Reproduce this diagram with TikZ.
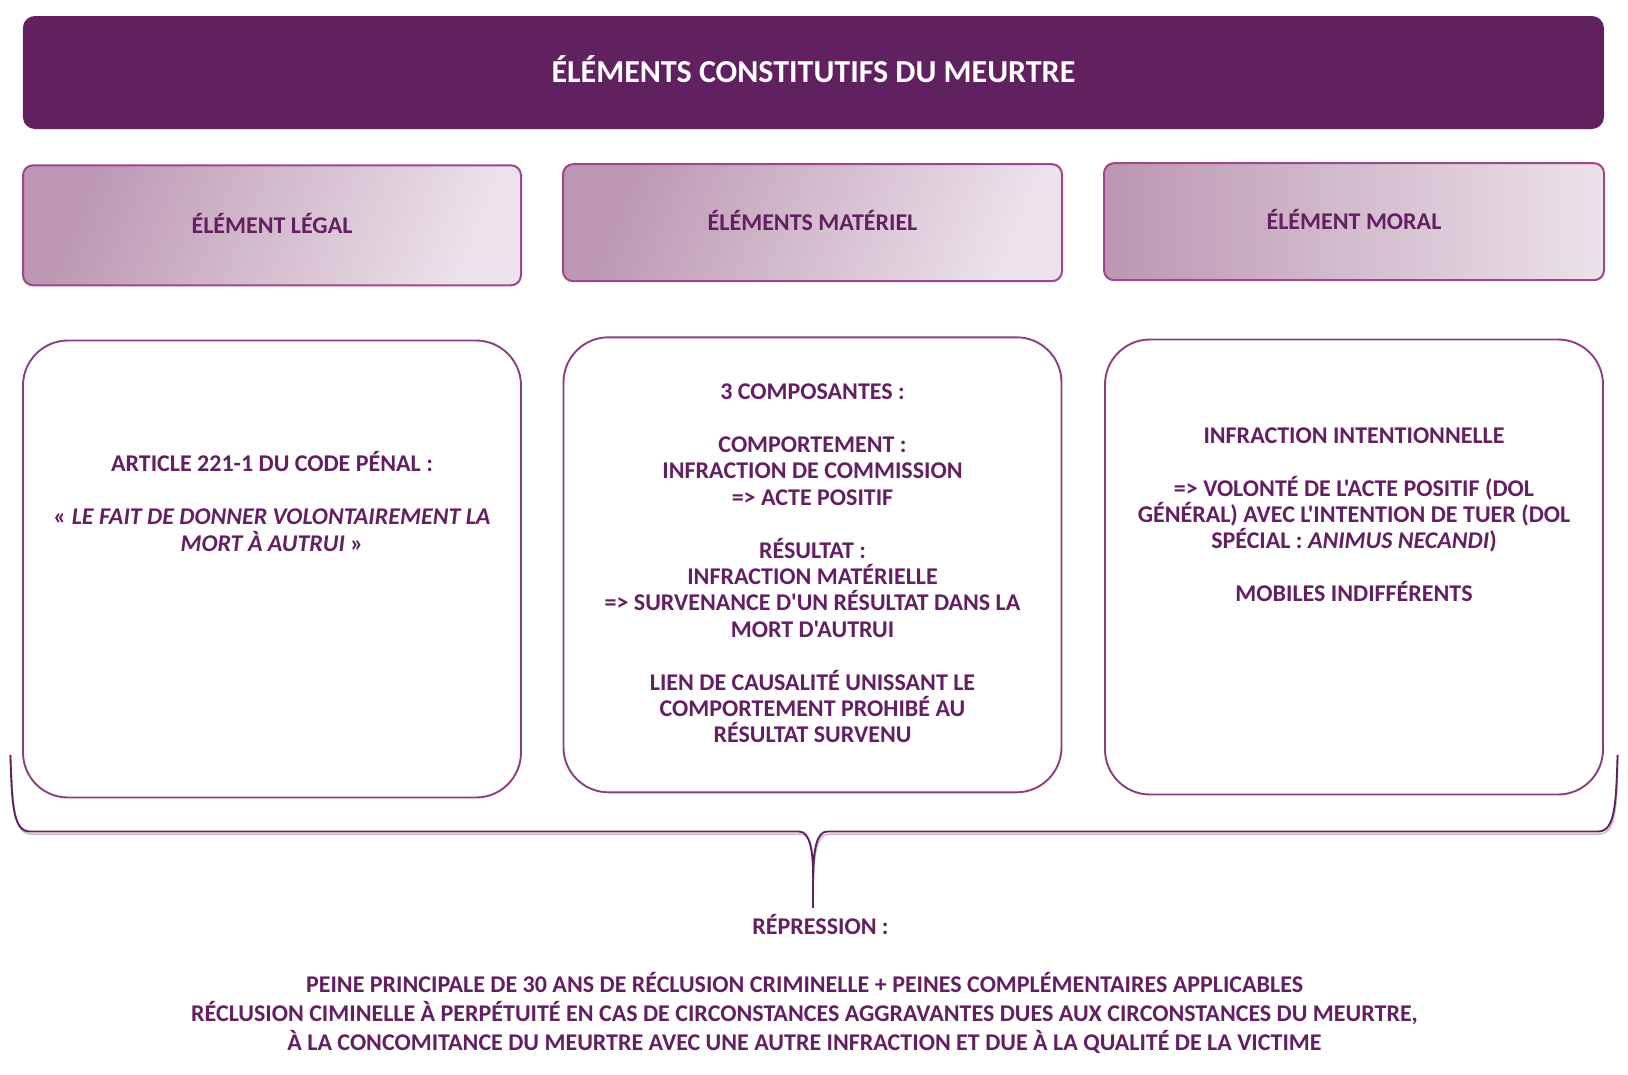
\documentclass[tikz,border=0pt]{standalone}
\usepackage{fontspec}
\setmainfont{Carlito}[Ligatures=TeXOff]
\definecolor{deep}{HTML}{612060}
\definecolor{txt}{HTML}{641F62}
\definecolor{edge}{HTML}{A0468F}
\definecolor{cedge}{HTML}{8E3D82}
\definecolor{gdark}{HTML}{BC96B2}
\definecolor{glight}{HTML}{ECE2E9}
\definecolor{bshadow}{HTML}{CDB8CA}
\tikzset{
  banner/.style={draw=none, fill=deep, rounded corners=12pt, inner sep=0pt,
    text=white, font=\fontsize{32}{36}\selectfont\bfseries,
    text height=20.6pt, text depth=0pt},
  headbox/.style={draw=edge, line width=2pt, rounded corners=10pt, inner sep=0pt,
    text=txt, font=\fontsize{24}{26}\selectfont\bfseries,
    text height=15.5pt, text depth=0pt},
  diaghead/.style={headbox, left color=gdark, right color=glight, shading angle=68},
  horizhead/.style={headbox, left color=gdark, right color=glight},
  contentbox/.style={draw=cedge, line width=1.9pt, rounded corners=45pt, fill=white,
    minimum width=498pt, minimum height=455pt},
  bodytext/.style={text=txt, align=center, inner sep=0pt,
    font=\fontsize{24}{26.4}\selectfont\bfseries},
  bracepath/.style={draw=deep, line width=1.9pt},
}
\begin{document}
\begin{tikzpicture}[x=1pt,y=-1pt]
\useasboundingbox (0,0) rectangle (1628,1074);
\fill[white] (0,0) rectangle (1628,1074);

% banner
\node[banner, minimum width=1581pt, minimum height=113pt] (title) at (813.4,72.5)
  {ÉLÉMENTS CONSTITUTIFS DU MEURTRE};

% headers
\node[diaghead, minimum width=498pt, minimum height=120pt] (hlegal) at (272,225.3) {ÉLÉMENT LÉGAL};
\node[diaghead, minimum width=499pt, minimum height=117pt] (hmat) at (812.5,222.7) {ÉLÉMENTS MATÉRIEL};
\node[horizhead, minimum width=500pt, minimum height=117pt] (hmoral) at (1354,221.7) {ÉLÉMENT MORAL};

% content boxes
\node[contentbox, minimum height=457pt] (blegal) at (272,569) {};
\node[contentbox] (bmat) at (812.5,564.8) {};
\node[contentbox] (bmoral) at (1354,567) {};

% content texts
\node[bodytext] (tlegal) at (272,501.5) {ARTICLE 221-1 DU CODE PÉNAL :\\[26.4pt]
«~\textit{LE FAIT DE DONNER VOLONTAIREMENT LA}\\\textit{MORT À AUTRUI}~»};

\node[bodytext] (tmat) at (812.5,563.5) {3 COMPOSANTES :\\[26.4pt]
COMPORTEMENT :\\INFRACTION DE COMMISSION\\=> ACTE POSITIF\\[26.4pt]
RÉSULTAT :\\INFRACTION MATÉRIELLE\\=> SURVENANCE D'UN RÉSULTAT DANS LA\\MORT D'AUTRUI\\[26.4pt]
LIEN DE CAUSALITÉ UNISSANT LE\\COMPORTEMENT PROHIBÉ AU\\RÉSULTAT SURVENU};

\node[bodytext] (tmoral) at (1354,514.8) {INFRACTION INTENTIONNELLE\\[26.4pt]
=> VOLONTÉ DE L'ACTE POSITIF (DOL\\GÉNÉRAL) AVEC L'INTENTION DE TUER (DOL\\SPÉCIAL : \textit{ANIMUS NECANDI})\\[26.4pt]
MOBILES INDIFFÉRENTS};

% brace
\coordinate (bl) at (10.4,755);
\coordinate (br) at (1617.6,755);
\coordinate (tip) at (813.2,908);
\coordinate (join) at (813.2,880);
\draw[draw=bshadow, line width=1.5pt, shift={(1,2.5)}]
  (bl) .. controls (12,805) and (13,831.5) .. (30,831.5) -- (799,831.5)
  .. controls (810,831.5) and (813.2,850) .. (join)
  .. controls (813.2,850) and (816.4,831.5) .. (827.4,831.5) -- (1598,831.5)
  .. controls (1615,831.5) and (1616,805) .. (br);
\draw[bracepath]
  (bl) .. controls (12,805) and (13,831.5) .. (30,831.5) -- (799,831.5)
  .. controls (810,831.5) and (813.2,850) .. (join)
  .. controls (813.2,850) and (816.4,831.5) .. (827.4,831.5) -- (1598,831.5)
  .. controls (1615,831.5) and (1616,805) .. (br);
\draw[bracepath] (join) -- (tip);

% repression
\node[bodytext, text height=15.5pt, text depth=0pt] (rep) at (820.5,926.5) {RÉPRESSION :};
\node[bodytext, font=\fontsize{24}{29}\selectfont\bfseries] (peine) at (804.5,1013)
  {PEINE PRINCIPALE DE 30 ANS DE RÉCLUSION CRIMINELLE + PEINES COMPLÉMENTAIRES APPLICABLES\\
RÉCLUSION CIMINELLE À PERPÉTUITÉ EN CAS DE CIRCONSTANCES AGGRAVANTES DUES AUX CIRCONSTANCES DU MEURTRE,\\
À LA CONCOMITANCE DU MEURTRE AVEC UNE AUTRE INFRACTION ET DUE À LA QUALITÉ DE LA VICTIME};
\end{tikzpicture}
\end{document}
